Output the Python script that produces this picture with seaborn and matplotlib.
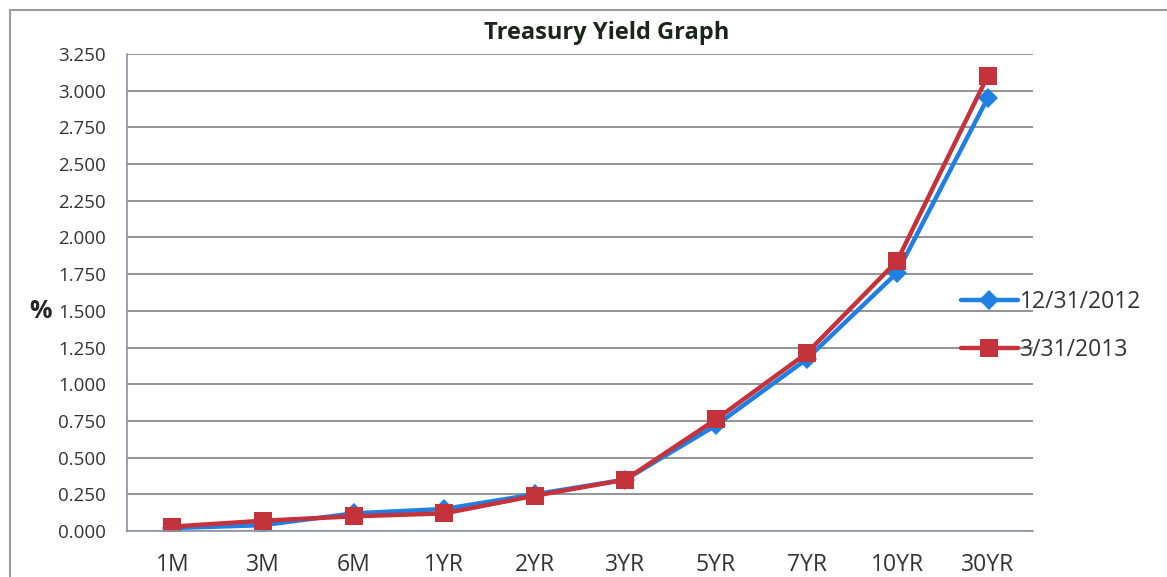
#!/usr/bin/env python3

# Import libraries
import pandas as pd
import numpy as np
import matplotlib as mpl
import matplotlib.pyplot as plt
import matplotlib.ticker as mticker
import seaborn as sns

# Data
maturities = ["1M", "3M", "6M", "1YR", "2YR", "3YR", "5YR", "7YR", "10YR", "30YR"]
yields_2012 = [0.02, 0.04, 0.12, 0.15, 0.25, 0.35, 0.72, 1.17, 1.76, 2.95]
yields_2013 = [0.03, 0.07, 0.10, 0.12, 0.24, 0.35, 0.76, 1.21, 1.84, 3.10]
series_names = ["12/31/2012", "3/31/2013"]
y_ticks = np.arange(0, 3.251, 0.25)

colors = {"12/31/2012": "#1f7fe3", "3/31/2013": "#c4333b"}
markers = {"12/31/2012": "D", "3/31/2013": "s"}


def build_frame():
    ''' Long-form table for seaborn. '''
    df = pd.DataFrame({
        "maturity": maturities * 2,
        "pos": list(range(len(maturities))) * 2,
        "yield": yields_2012 + yields_2013,
        "series": [series_names[0]] * len(maturities) + [series_names[1]] * len(maturities),
    })
    return df


def plot(df):
    sns.set_style("white")
    plt.rcParams["font.family"] = ["Open Sans", "DejaVu Sans"]

    fig = plt.figure(figsize=(11.67, 5.77), dpi=100)
    ax = fig.add_axes([127 / 1167, 46 / 577, 906 / 1167, 477 / 577])

    sns.lineplot(data=df, x="pos", y="yield", hue="series", style="series",
                 palette=colors, markers=markers, dashes=False, sort=False,
                 linewidth=3.2, markersize=13.5, markeredgewidth=0, ax=ax)
    # diamonds a bit smaller than squares
    for line in ax.lines:
        if line.get_marker() == "D":
            line.set_markersize(10)

    # Axes limits and ticks
    ax.set_xlim(-0.5, len(maturities) - 0.5)
    ax.set_ylim(0, 3.25)
    ax.set_yticks(y_ticks)
    ax.yaxis.set_major_formatter(mticker.FormatStrFormatter("%.3f"))
    ax.set_xticks(np.arange(-0.5, len(maturities), 1.0))
    ax.set_xticklabels([])
    ax.set_xticks(np.arange(len(maturities)), minor=True)
    ax.set_xticklabels(maturities, minor=True)
    ax.tick_params(axis="x", which="major", length=7, width=1.2, color="#8a94a6", direction="out")
    ax.tick_params(axis="x", which="minor", length=0, pad=16, labelsize=16.5, labelcolor="#333333")
    ax.tick_params(axis="y", length=5, width=1.2, color="#8a8a8a", direction="out",
                   labelsize=13.5, labelcolor="#333333", pad=10)

    # Grid and spines
    ax.yaxis.grid(True, color="#8a8a8a", linewidth=1.3)
    ax.set_axisbelow(True)
    for side in ["top", "right"]:
        ax.spines[side].set_visible(False)
    ax.spines["left"].set_color("#8a94a6")
    ax.spines["bottom"].set_color("#8a94a6")
    ax.spines["left"].set_linewidth(1.2)
    ax.spines["bottom"].set_linewidth(1.2)

    # Labels
    ax.set_xlabel("")
    ax.set_ylabel("%", rotation=0, fontsize=18, fontweight="bold", va="center", ha="center")
    ax.yaxis.set_label_coords(-0.095, (531 - 311) / 477)
    fig.text(607 / 1167, 1 - 33 / 577, "Treasury Yield Graph", ha="center", va="center",
             fontsize=17, fontweight="bold", color="#1b261b")

    # Legend to the right
    ax.legend_.remove()
    handles, labels = ax.get_legend_handles_labels()
    fig.legend(handles, labels, loc="center left", bbox_to_anchor=(940 / 1167, 1 - 326 / 577),
               frameon=False, fontsize=16.5, handlelength=2.5, handletextpad=0.1,
               labelspacing=1.05, labelcolor="#333333")

    # Chart border
    border = mpl.patches.Rectangle((10 / 1167, -0.1), 1.2, 1 - 10 / 577 + 0.1,
                                   transform=fig.transFigure, fill=False,
                                   edgecolor="#9a9a9a", linewidth=1.5)
    fig.patches.append(border)
    return fig


def main():
    df = build_frame()
    fig = plot(df)
    fig.savefig("out.png", dpi=100)


if __name__ == '__main__':
    main()
